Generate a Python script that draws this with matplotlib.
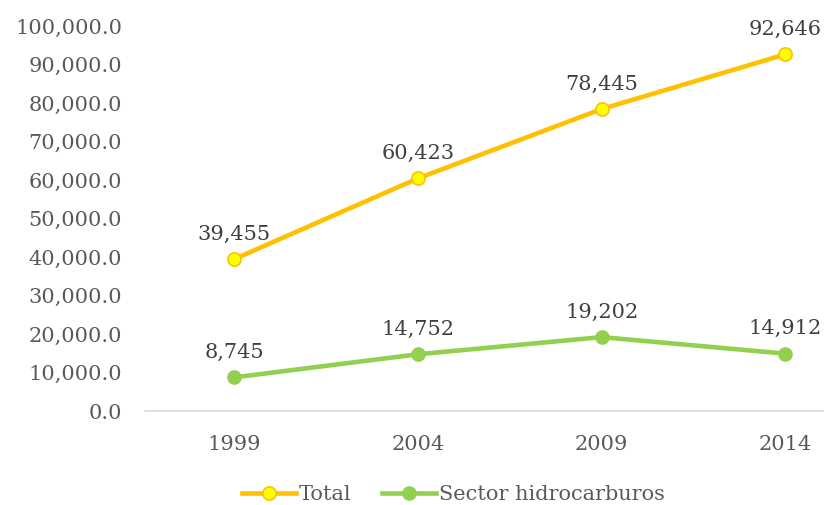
import numpy as np
import matplotlib.pyplot as plt
from matplotlib.ticker import FuncFormatter

years = ['1999', '2004', '2009', '2014']
total = [39455, 60423, 78445, 92646]
hidrocarburos = [8745, 14752, 19202, 14912]

plt.rcParams['font.family'] = ['DejaVu Serif']

fig = plt.figure(figsize=(8.24, 5.05), dpi=100)
ax = fig.add_axes([0.176, 0.186, 0.824, 0.7625])

x = np.arange(len(years))
ax.plot(x, total, color='#FFC000', lw=3.3, marker='o', ms=9.5,
        mfc='#FFFF00', mec='#FFC000', mew=1.2, label='Total', zorder=3)
ax.plot(x, hidrocarburos, color='#92D050', lw=3.3, marker='o', ms=9.5,
        mfc='#92D050', mec='#92D050', label='Sector hidrocarburos', zorder=3)

# etiquetas de datos
for xi, v in zip(x, total):
    ax.annotate(f'{v:,}', (xi, v), xytext=(0, 11), textcoords='offset points',
                ha='center', va='bottom', fontsize=15, color='#404040')
for xi, v in zip(x, hidrocarburos):
    ax.annotate(f'{v:,}', (xi, v), xytext=(0, 11), textcoords='offset points',
                ha='center', va='bottom', fontsize=15, color='#404040')

ax.set_xlim(-0.485, 3.21)
ax.set_ylim(0, 100000)
ax.set_yticks(np.arange(0, 100001, 10000))
ax.yaxis.set_major_formatter(FuncFormatter(lambda v, p: f'{v:,.1f}'))
ax.set_xticks(x)
ax.set_xticklabels(years)
ax.tick_params(axis='both', length=0, labelsize=15, labelcolor='#595959')
ax.tick_params(axis='y', pad=16.5)
ax.tick_params(axis='x', pad=17)

for s in ['top', 'right', 'left']:
    ax.spines[s].set_visible(False)
ax.spines['bottom'].set_color('#D9D9D9')
ax.spines['bottom'].set_linewidth(1.2)

ax.legend(loc='lower center', bbox_to_anchor=(0.454, -0.29), ncol=2, frameon=False,
          fontsize=15, handlelength=2.6, handletextpad=0.1, columnspacing=1.5,
          labelcolor='#595959')

fig.savefig('out.png', dpi=100)
